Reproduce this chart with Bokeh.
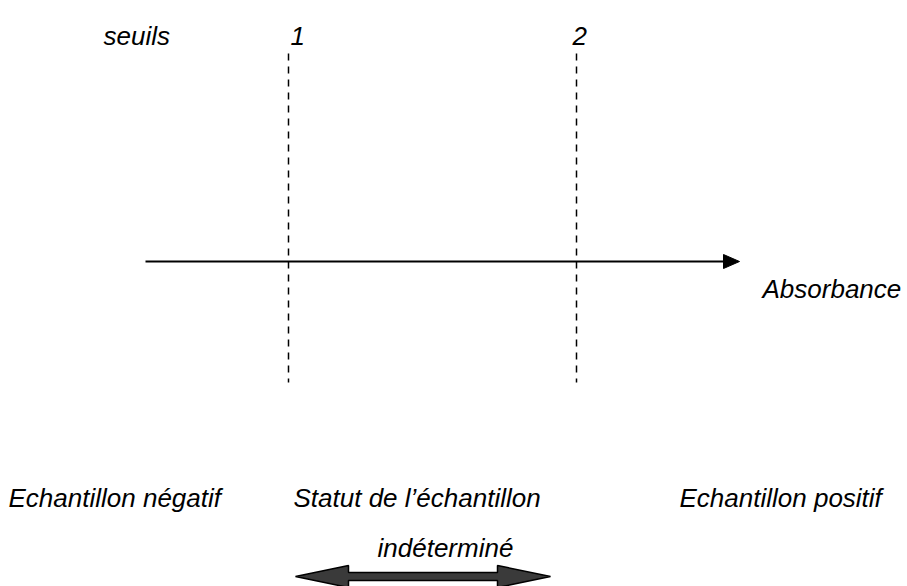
from bokeh.plotting import figure
from bokeh.models import Range1d, ColumnDataSource
from bokeh.core.properties import value
from bokeh.embed import file_html
from bokeh.resources import INLINE

# ---- data (schematic, arbitrary absorbance scale in page units) ----
threshold_labels = ["1", "2"]
threshold_values = [288, 576]
axis_start = 145
axis_end = 739
axis_level = 261
dash_top = 53
dash_bottom = 382

top_labels = ["seuils", "1", "2"]
top_label_x = [103, 290, 572]

zone_labels = ["Echantillon négatif", "Statut de l\u2019échantillon", "Echantillon positif"]
zone_label_x = [8, 293, 679]
zone_label2 = ["indéterminé"]
zone_label2_x = [377]

axis_title = "Absorbance"

FONT = value("Liberation Sans")

p = figure(width=907, height=586, output_backend="svg", toolbar_location=None,
           x_range=Range1d(0, 907), y_range=Range1d(586, 0),
           min_border=0, outline_line_color=None)
p.axis.visible = False
p.xgrid.visible = False
p.ygrid.visible = False
p.background_fill_color = "white"
p.border_fill_color = "white"

# vertical dashed threshold lines
for xv in threshold_values:
    p.line([xv, xv], [dash_top, dash_bottom], line_color="black", line_width=1.5, line_dash="7 6")

# horizontal axis arrow
head_len = 16
head_half = 7
p.line([axis_start, axis_end - head_len], [axis_level, axis_level], line_color="black", line_width=2)
p.patch([axis_end - head_len, axis_end, axis_end - head_len],
        [axis_level - head_half, axis_level, axis_level + head_half],
        fill_color="black", line_color="black", line_width=1)

# double arrow (indeterminate zone)
l, r = 295, 550
yc = 576
hl = 53
hh = 11
sh = 4
xs = [l, l + hl, l + hl, r - hl, r - hl, r, r - hl, r - hl, l + hl, l + hl]
ys = [yc, yc - hh, yc - sh, yc - sh, yc - hh, yc, yc + hh, yc + sh, yc + sh, yc + hh]
p.patch(xs, ys, fill_color="#3a3a3a", line_color="black", line_width=1.5)

def txt(xv, yv, labels, size="26px"):
    src = ColumnDataSource(dict(x=xv, y=yv, t=labels))
    p.text(x="x", y="y", text="t", source=src, text_font=FONT, text_font_style="italic",
           text_font_size=size, text_color="black", text_align="left", text_baseline="alphabetic")

txt(top_label_x, [35] * 3, top_labels)
txt([762], [288], [axis_title])
txt(zone_label_x, [497] * 3, zone_labels)
txt(zone_label2_x, [547], zone_label2)

open("out.html", "w").write(file_html(p, INLINE))
